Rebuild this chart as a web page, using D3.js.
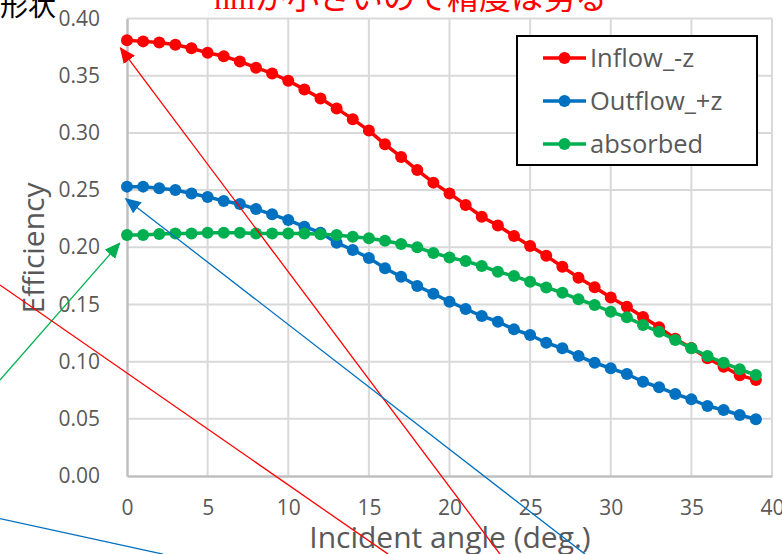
<!DOCTYPE html>
<html>
<head>
<meta charset="utf-8">
<script src="https://cdn.jsdelivr.net/npm/d3@7/dist/d3.min.js"></script>
<style>
  html, body { margin: 0; padding: 0; background: #ffffff; }
  svg { display: block; }
</style>
</head>
<body>
<svg id="chart" width="782" height="554"></svg>
<script>
// Incident angle (deg.)
const angles = [0,1,2,3,4,5,6,7,8,9,10,11,12,13,14,15,16,17,18,19,
                20,21,22,23,24,25,26,27,28,29,30,31,32,33,34,35,36,37,38,39];

const inflow = [0.381,0.380,0.379,0.377,0.374,0.370,0.367,0.3625,0.357,0.352,
                0.3456,0.338,0.330,0.3214,0.312,0.302,0.290,0.279,0.2675,0.2565,
                0.247,0.237,0.2267,0.219,0.2098,0.201,0.1925,0.183,0.1734,0.165,
                0.156,0.148,0.139,0.130,0.120,0.112,0.103,0.0955,0.088,0.084];

const outflow = [0.253,0.253,0.2515,0.250,0.247,0.244,0.2404,0.2378,0.2334,0.2288,
                 0.2238,0.218,0.2127,0.2040,0.1976,0.1907,0.1816,0.1742,0.1661,0.1594,
                 0.1524,0.146,0.1399,0.1349,0.1282,0.1233,0.1165,0.1116,0.1049,0.099,
                 0.0941,0.0892,0.0824,0.0775,0.0717,0.067,0.0612,0.0577,0.0533,0.0496];

const absorbed = [0.2107,0.2107,0.2115,0.2121,0.2121,0.2127,0.2127,0.2127,0.2121,0.2121,
                  0.2121,0.2121,0.2113,0.2107,0.2092,0.2078,0.2057,0.2028,0.1999,0.195,
                  0.1911,0.1879,0.1836,0.1786,0.1748,0.1699,0.1649,0.1602,0.1545,0.1495,
                  0.1436,0.1387,0.132,0.1261,0.1189,0.1116,0.1049,0.099,0.0933,0.0883];

const seriesNames = ["Inflow_-z", "Outflow_+z", "absorbed"];
const seriesColors = ["#ff0000", "#0070c0", "#00b050"];

const xTicks = [0,5,10,15,20,25,30,35,40];
const yTicks = [0,0.05,0.10,0.15,0.20,0.25,0.30,0.35,0.40];

// Annotation arrows, in chart units [angle, efficiency]
const arrowColors = ["#ff0000", "#0070c0", "#00b050", "#ff0000", "#0070c0"];
const arrowFrom = [[23.13,-0.0683],[28.4,-0.0683],[-7.88,0.0839],[-7.88,0.167],[-7.88,-0.0372]];
const arrowTo   = [[-0.39,0.3739],[-0.06,0.2422],[-0.47,0.2033],[16.19,-0.0683],[2.23,-0.0683]];
const arrowHead = [true, true, true, false, false];

const svg = d3.select("#chart");
const plot = { left: 127, right: 772, top: 18.5, bottom: 476 };

const x = d3.scaleLinear().domain([0, 40]).range([plot.left, plot.right]);
const y = d3.scaleLinear().domain([0, 0.40]).range([plot.bottom, plot.top]);

const font = "'Open Sans', 'Noto Sans', sans-serif";
const textGray = "#595959";

// Gridlines
const grid = svg.append("g");
grid.selectAll("line.h").data(yTicks.slice(1)).join("line")
  .attr("x1", plot.left).attr("x2", plot.right)
  .attr("y1", d => y(d)).attr("y2", d => y(d))
  .attr("stroke", "#d9d9d9").attr("stroke-width", 2);
grid.selectAll("line.v").data(xTicks.slice(1)).join("line")
  .attr("x1", d => x(d)).attr("x2", d => x(d))
  .attr("y1", plot.top).attr("y2", plot.bottom)
  .attr("stroke", "#d9d9d9").attr("stroke-width", 2);

// Axes
const xAxis = svg.append("g")
  .attr("transform", `translate(0,${plot.bottom})`)
  .call(d3.axisBottom(x).tickValues(xTicks).tickSize(0).tickPadding(24).tickFormat(d3.format("d")));
xAxis.select(".domain").attr("stroke", "#bfbfbf").attr("stroke-width", 2.5);
xAxis.selectAll("text").attr("font-family", font).attr("font-size", 21).attr("fill", textGray);

const yAxis = svg.append("g")
  .attr("transform", `translate(${plot.left},0)`)
  .call(d3.axisLeft(y).tickValues(yTicks).tickSize(0).tickPadding(27).tickFormat(d3.format(".2f")));
yAxis.select(".domain").attr("stroke", "#bfbfbf").attr("stroke-width", 2.5);
yAxis.selectAll("text").attr("font-family", font).attr("font-size", 21).attr("fill", textGray);

// Axis titles
svg.append("text")
  .attr("x", 450).attr("y", 548)
  .attr("text-anchor", "middle")
  .attr("font-family", font).attr("font-size", 30).attr("fill", textGray)
  .text("Incident angle (deg.)");

svg.append("text")
  .attr("transform", "translate(44,248) rotate(-90)")
  .attr("text-anchor", "middle")
  .attr("font-family", font).attr("font-size", 30).attr("fill", textGray)
  .text("Efficiency");

// Series
const allSeries = [inflow, outflow, absorbed];
const line = d3.line().x((d, i) => x(angles[i])).y(d => y(d));
allSeries.forEach((vals, si) => {
  const g = svg.append("g");
  g.append("path").datum(vals)
    .attr("d", line)
    .attr("fill", "none")
    .attr("stroke", seriesColors[si])
    .attr("stroke-width", 3.5)
    .attr("stroke-linejoin", "round");
  g.selectAll("circle").data(vals).join("circle")
    .attr("cx", (d, i) => x(angles[i]))
    .attr("cy", d => y(d))
    .attr("r", 6)
    .attr("fill", seriesColors[si]);
});

// Legend
const legend = svg.append("g");
legend.append("rect")
  .attr("x", 517).attr("y", 36).attr("width", 240).attr("height", 129)
  .attr("fill", "#ffffff").attr("stroke", "#000000").attr("stroke-width", 2);
seriesNames.forEach((name, i) => {
  const cy = 58 + i * 43;
  legend.append("line")
    .attr("x1", 543).attr("x2", 586).attr("y1", cy).attr("y2", cy)
    .attr("stroke", seriesColors[i]).attr("stroke-width", 3.5);
  legend.append("circle")
    .attr("cx", 564.5).attr("cy", cy).attr("r", 6).attr("fill", seriesColors[i]);
  legend.append("text")
    .attr("x", 590).attr("y", cy + 9)
    .attr("font-family", font).attr("font-size", 25.5).attr("fill", textGray)
    .text(name);
});

// Annotation arrows
const defs = svg.append("defs");
arrowColors.forEach((c, i) => {
  defs.append("marker")
    .attr("id", "arrow" + i)
    .attr("viewBox", "0 0 10 10")
    .attr("refX", 9).attr("refY", 5)
    .attr("markerWidth", 16).attr("markerHeight", 14)
    .attr("markerUnits", "userSpaceOnUse")
    .attr("orient", "auto")
    .attr("preserveAspectRatio", "none")
    .append("path").attr("d", "M0,0 L10,5 L0,10 Z").attr("fill", c);
});
const arrows = svg.append("g");
arrowColors.forEach((c, i) => {
  const l = arrows.append("line")
    .attr("x1", x(arrowFrom[i][0])).attr("y1", y(arrowFrom[i][1]))
    .attr("x2", x(arrowTo[i][0])).attr("y2", y(arrowTo[i][1]))
    .attr("stroke", c).attr("stroke-width", 1.3);
  if (arrowHead[i]) {
    l.attr("marker-end", `url(#arrow${i})`);
  }
});

// Notes along the top edge
svg.append("text")
  .attr("x", 56).attr("y", 16)
  .attr("text-anchor", "end")
  .attr("font-family", "'Noto Sans CJK JP', sans-serif").attr("font-size", 28).attr("fill", "#000000")
  .text("形状");

const note = svg.append("text")
  .attr("x", 214).attr("y", 9)
  .attr("font-size", 32).attr("fill", "#ff0000");
note.append("tspan").attr("font-family", "'Liberation Serif', serif").text("nm");
note.append("tspan").attr("font-family", "'Noto Sans CJK JP', sans-serif").text("が小さいので精度は劣る");
</script>
</body>
</html>
